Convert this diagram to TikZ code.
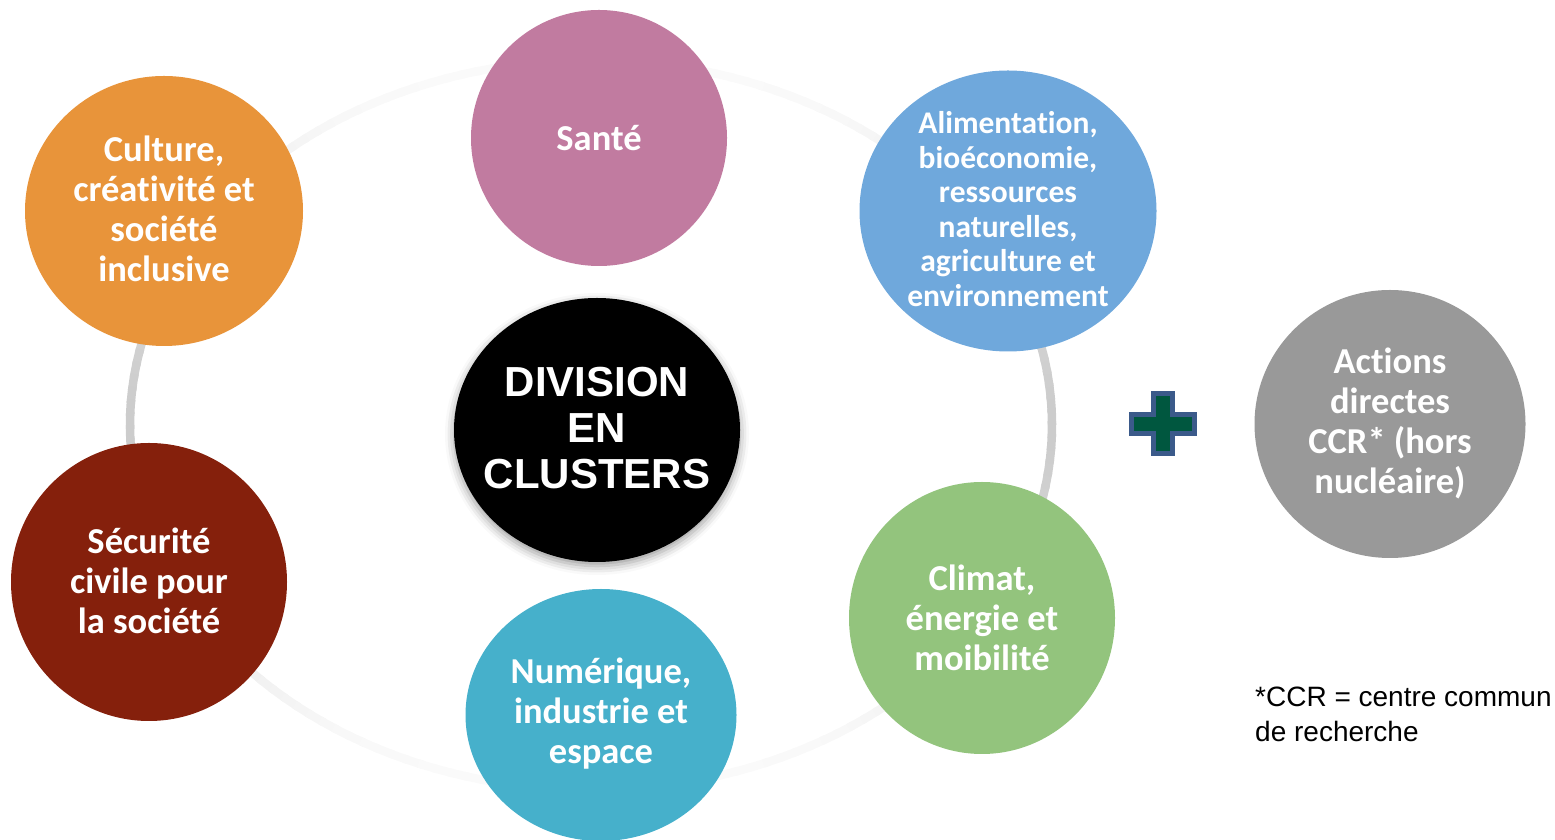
\documentclass[tikz,border=0pt]{standalone}
\usepackage{fontspec}
\newfontfamily\carl[Ligatures={NoCommon,NoRare,NoContextual}]{Carlito}
\newfontfamily\arl{Liberation Sans}
\usetikzlibrary{shapes.geometric,shadows.blur}
\definecolor{csante}{HTML}{C17BA0}
\definecolor{cculture}{HTML}{E8943A}
\definecolor{calim}{HTML}{6FA8DC}
\definecolor{csecu}{HTML}{85200C}
\definecolor{cnum}{HTML}{46B0CB}
\definecolor{cclimat}{HTML}{93C47D}
\definecolor{cactions}{HTML}{999999}
\definecolor{plusgreen}{HTML}{00573F}
\definecolor{plusblue}{HTML}{3B5A8A}
\begin{document}
\begin{tikzpicture}[x=1pt,y=1pt,
  bubble/.style={ellipse, inner sep=0pt},
  btext/.style={inner sep=0pt, text=white, align=center,
    font=\carl\bfseries\fontsize{36.5}{40}\selectfont},
  hub/.style={ellipse, inner sep=0pt, fill=black,
    blur shadow={shadow xshift=0pt, shadow yshift=-4pt, shadow blur radius=9pt, shadow opacity=40}},
  hubtext/.style={inner sep=0pt, text=white, align=center,
    font=\arl\bfseries\fontsize{42}{46}\selectfont},
  note/.style={inner sep=0pt, align=left, font=\arl\fontsize{28}{35}\selectfont}]
\useasboundingbox (0,0) rectangle (1555,840);
% ring
\foreach \a in {0,2,...,358}{
  \pgfmathsetmacro\p{2+18*abs(cos(\a+1))^5}
  \draw[line width=8.5pt, draw=black!\p] (591,415) ++(\a:461 and 365)
    arc[start angle=\a, end angle=\a+2.6, x radius=461, y radius=365];
}
% bubbles
\node[bubble, fill=csante, minimum width=256pt, minimum height=256pt] (sante) at (599,702) {};
\node[btext] at (sante.center) {Santé};
\node[bubble, fill=cculture, minimum width=278pt, minimum height=270pt] (culture) at (164,629) {};
\node[btext] at ([yshift=2pt]culture.center) {Culture,\\créativité et\\société\\inclusive};
\node[bubble, fill=calim, minimum width=297pt, minimum height=281pt] (alim) at (1008,629) {};
\node[btext, font=\carl\bfseries\fontsize{31.5}{34.6}\selectfont] at ([yshift=2pt]alim.center)
  {Alimentation,\\bioéconomie,\\ressources\\naturelles,\\agriculture et\\environnement};
\node[hub, minimum width=286pt, minimum height=264pt] (hub) at (597,410) {};
\node[hubtext] at ([yshift=2pt]hub.center) {DIVISION\\EN\\CLUSTERS};
\node[bubble, fill=csecu, minimum width=276pt, minimum height=278pt] (secu) at (149,258) {};
\node[btext] at ([yshift=1pt]secu.center) {Sécurité\\civile pour\\la société};
\node[bubble, fill=cnum, minimum width=271pt, minimum height=252pt] (num) at (601,125) {};
\node[btext] at ([yshift=1pt]num.center) {Numérique,\\industrie et\\espace};
\node[bubble, fill=cclimat, minimum width=266pt, minimum height=272pt] (climat) at (982,222) {};
\node[btext] at (climat.center) {Climat,\\énergie et\\moibilité};
\node[bubble, fill=cactions, minimum width=271pt, minimum height=268pt] (actions) at (1390,416) {};
\node[btext] at ([yshift=1pt]actions.center) {Actions\\directes\\CCR* (hors\\nucléaire)};
% plus sign
\draw[line width=5pt, draw=plusblue, fill=plusgreen] (1163,416) ++(-9.5,30)
  -- ++(19,0) -- ++(0,-20.5) -- ++(22,0) -- ++(0,-19) -- ++(-22,0) -- ++(0,-20.5)
  -- ++(-19,0) -- ++(0,20.5) -- ++(-22,0) -- ++(0,19) -- ++(22,0) -- cycle;
% footnote
\node[note, anchor=north west] (note) at (1255,153) {*CCR = centre commun\\de recherche};
\end{tikzpicture}
\end{document}
